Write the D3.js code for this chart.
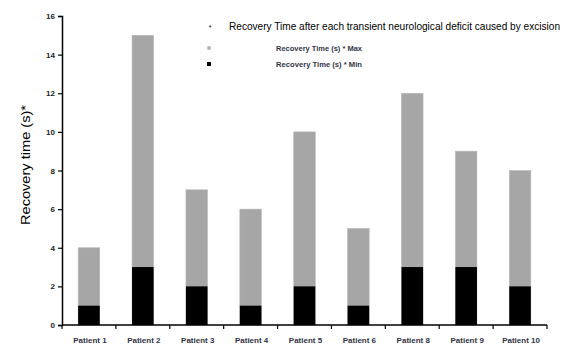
<!DOCTYPE html>
<html><head><meta charset="utf-8">
<script src="https://cdn.jsdelivr.net/npm/d3@7"></script>
<style>body{margin:0;background:#fff}</style>
</head><body>
<svg id="c" width="564" height="356"></svg>
<script>
const patients = ["Patient 1","Patient 2","Patient 3","Patient 4","Patient 5","Patient 6","Patient 8","Patient 9","Patient 10"];
const maxValues = [4,15,7,6,10,5,12,9,8];
const minValues = [1,3,2,1,2,1,3,3,2];
const yTicks = [0,2,4,6,8,10,12,14,16];
const legendLabels = ["Recovery Time (s) * Max","Recovery Time (s) * Min"];
const titleText = "Recovery Time after each transient neurological deficit caused by excision";

const svg = d3.select("#c");
const x = d3.scaleBand().domain(patients).range([62,547]).paddingInner(0.6).paddingOuter(0.3);
const xb = d3.scaleBand().domain(patients).range([62,547]);
const y = d3.scaleLinear().domain([0,16]).range([325,16]);
const font = "Liberation Sans, Arial, sans-serif";

// bars
svg.selectAll("rect.max").data(patients).join("rect")
  .attr("x",d=>x(d)).attr("width",x.bandwidth())
  .attr("y",(d,i)=>y(maxValues[i])).attr("height",(d,i)=>y(0)-y(maxValues[i]))
  .attr("fill","#a6a6a6").attr("stroke","#b8b8b8").attr("stroke-width",0.6);
svg.selectAll("rect.min").data(patients).join("rect")
  .attr("x",d=>x(d)).attr("width",x.bandwidth())
  .attr("y",(d,i)=>y(minValues[i])).attr("height",(d,i)=>y(0)-y(minValues[i]))
  .attr("fill","#000");

// y axis
const ya = svg.append("g").attr("transform","translate(62,0)")
  .call(d3.axisLeft(y).tickValues(yTicks).tickSize(4).tickPadding(3));
ya.select(".domain").attr("stroke","#000").attr("stroke-width",1.5);
ya.selectAll(".tick line").attr("stroke","#000").attr("stroke-width",1.2);
ya.selectAll("text").attr("font-family",font)
  .attr("font-size",8).attr("font-weight","bold").attr("fill","#222");

// x axis
const xa = svg.append("g").attr("transform","translate(0,325)");
xa.append("line").attr("x1",62).attr("x2",547).attr("stroke","#000").attr("stroke-width",1.5);
const bounds = patients.map(d=>xb(d)).concat([547]);
xa.selectAll("line.t").data(bounds).join("line")
  .attr("x1",d=>d).attr("x2",d=>d).attr("y1",0).attr("y2",4)
  .attr("stroke","#000").attr("stroke-width",1.2);
xa.selectAll("text").data(patients).join("text")
  .attr("x",d=>xb(d)+xb.bandwidth()/2+1).attr("y",18)
  .attr("text-anchor","middle")
  .attr("font-family",font)
  .attr("font-size",8).attr("font-weight","bold").attr("fill","#333344")
  .text(d=>d);

// y label
svg.append("text").attr("transform","translate(30,165) rotate(-90)")
  .attr("text-anchor","middle")
  .attr("font-family",font)
  .attr("font-size",13).attr("fill","#000")
  .attr("textLength",120).attr("lengthAdjust","spacingAndGlyphs")
  .text("Recovery time (s)*");

// title / legend
svg.append("text").attr("x",210).attr("y",30).attr("text-anchor","middle").attr("font-family",font)
  .attr("font-size",7).attr("fill","#000").text("*");
svg.append("text").attr("x",229).attr("y",30).attr("font-family",font)
  .attr("font-size",10.1).attr("fill","#000")
  .text(titleText);
const legColors = ["#b0b0b0","#000"];
const legY = [48,64];
const legSize = [3.5,4];
legendLabels.forEach((l,i)=>{
  svg.append("rect").attr("x",209-legSize[i]/2).attr("y",legY[i]-legSize[i]/2)
    .attr("width",legSize[i]).attr("height",legSize[i]).attr("fill",legColors[i]);
  svg.append("text").attr("x",276).attr("y",legY[i]+2.5)
    .attr("font-family",font)
    .attr("font-size",7.5).attr("font-weight","bold").attr("fill","#333344")
    .attr("textLength",86).attr("lengthAdjust","spacingAndGlyphs")
    .text(l);
});
</script>
</body></html>
